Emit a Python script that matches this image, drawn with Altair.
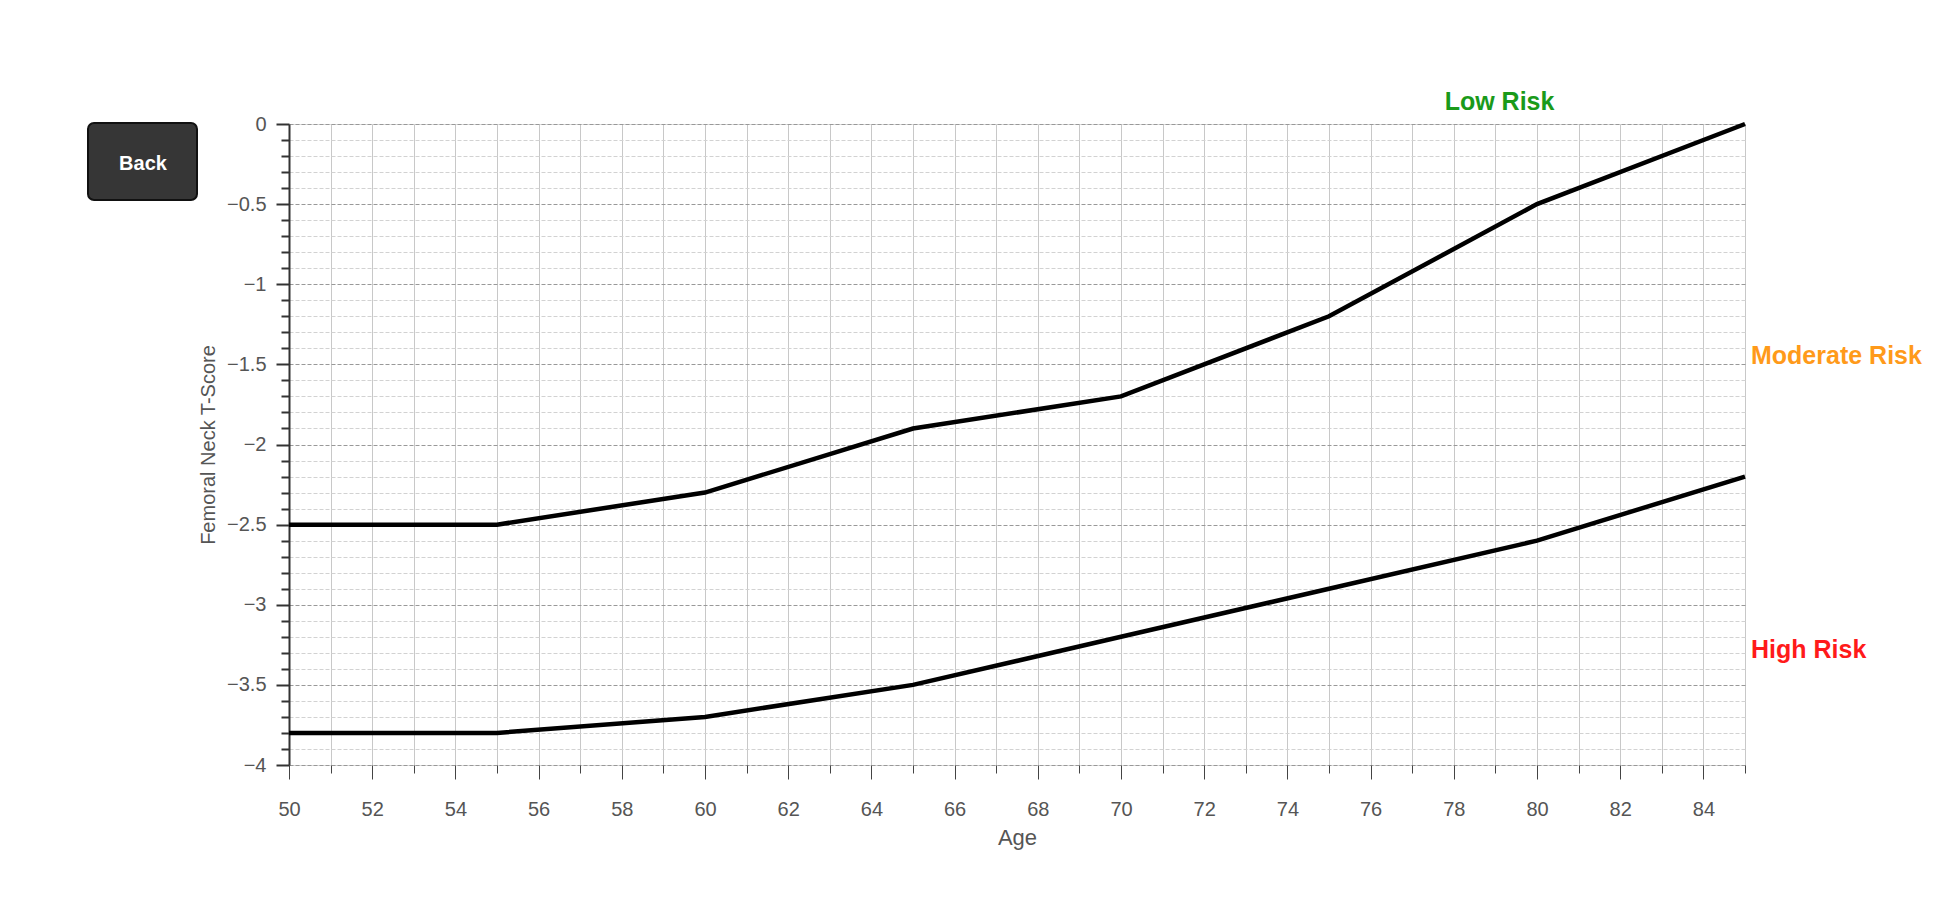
import altair as alt
import pandas as pd

ages = [50, 55, 60, 65, 70, 75, 80, 85]
upper_threshold = [-2.5, -2.5, -2.3, -1.9, -1.7, -1.2, -0.5, 0.0]
lower_threshold = [-3.8, -3.8, -3.7, -3.5, -3.2, -2.9, -2.6, -2.2]

x_ticks = list(range(50, 86))
y_ticks = [round(-4 + 0.1 * i, 1) for i in range(41)]

risk_labels = ["Low Risk", "Moderate Risk", "High Risk"]
risk_colors = ["#1a9a1a", "#ff9a1a", "#ff1a1a"]
risk_age = [79.1, 85, 85]
risk_score = [0.14, -1.45, -3.28]

FONT = "Liberation Sans"

rows = []
for a, u, l in zip(ages, upper_threshold, lower_threshold):
    rows.append({"age": a, "score": u, "series": "upper"})
    rows.append({"age": a, "score": l, "series": "lower"})
df = pd.DataFrame(rows)

x_scale = alt.Scale(domain=[50, 85], nice=False, zero=False)
y_scale = alt.Scale(domain=[-4, 0], nice=False, zero=False)

major_y = "abs(datum.value*2 - round(datum.value*2)) < 0.001"
even_x = "datum.value % 2 == 0"

lines = alt.Chart(df).mark_line(color="black", strokeWidth=4.5).encode(
    x=alt.X("age:Q", scale=x_scale, title="Age",
            axis=alt.Axis(values=x_ticks, tickCount=60,
                          labelExpr="datum.value % 2 == 0 ? format(datum.value, 'd') : ''",
                          labelFlush=False,
                          grid=True, gridColor="#c8c8c8", gridWidth=1,
                          domain=False,
                          tickColor="#444",
                          tickSize={"condition": {"test": even_x, "value": 14}, "value": 8},
                          labelPadding=20, labelFontSize=20, labelColor="#555",
                          labelFont=FONT, titleFont=FONT, titleFontSize=22,
                          titleFontWeight="normal", titleColor="#555",
                          titlePadding=8)),
    y=alt.Y("score:Q", scale=y_scale, title="Femoral Neck T-Score",
            axis=alt.Axis(values=y_ticks, tickCount=60,
                          labelExpr="abs(datum.value*2 - round(datum.value*2)) < 0.001 ? format(datum.value, '') : ''",
                          labelFlush=False,
                          grid=True,
                          gridColor={"condition": {"test": major_y, "value": "#999999"}, "value": "#d2d2d2"},
                          gridDash=[4, 2], gridWidth=1,
                          domain=True, domainColor="#333", domainWidth=2,
                          tickColor="#333",
                          tickSize={"condition": {"test": major_y, "value": 13}, "value": 8},
                          tickWidth=2,
                          labelPadding=10, labelFontSize=20, labelColor="#555",
                          labelFont=FONT, titleFont=FONT, titleFontSize=20,
                          titleFontWeight="normal", titleColor="#555",
                          titlePadding=8)),
    detail="series:N",
)

lab_df = pd.DataFrame({"label": risk_labels, "color": risk_colors,
                       "age": risk_age, "score": risk_score})

low = alt.Chart(lab_df.iloc[[0]]).mark_text(
    font=FONT, fontSize=25, fontWeight="bold", align="center", baseline="middle"
).encode(x=alt.X("age:Q", scale=x_scale), y=alt.Y("score:Q", scale=y_scale),
         text="label:N", color=alt.Color("color:N", scale=None))

right = alt.Chart(lab_df.iloc[[1, 2]]).mark_text(
    font=FONT, fontSize=25, fontWeight="bold", align="left", baseline="middle", dx=6
).encode(x=alt.X("age:Q", scale=x_scale), y=alt.Y("score:Q", scale=y_scale),
         text="label:N", color=alt.Color("color:N", scale=None))

button = alt.Chart(pd.DataFrame({"t": ["Back"]})).mark_rect(
    cornerRadius=6, fill="#363636", stroke="#111", strokeWidth=2
).encode(x=alt.value(-201), x2=alt.value(-92), y=alt.value(-1), y2=alt.value(76))

button_text = alt.Chart(pd.DataFrame({"t": ["Back"]})).mark_text(
    font=FONT, fontSize=20, fontWeight="bold", color="white", align="center", baseline="middle"
).encode(x=alt.value(-146), y=alt.value(40), text="t:N")

chart = alt.layer(button, button_text, lines, low, right).properties(
    width=1456, height=641,
    autosize=alt.AutoSizeParams(type="none"),
    padding={"left": 281, "top": 116, "right": 200, "bottom": 100},
).configure_view(stroke="#777", strokeWidth=2).configure(background="white")

chart.save("out.html", embed_options={"renderer": "svg", "actions": False})
